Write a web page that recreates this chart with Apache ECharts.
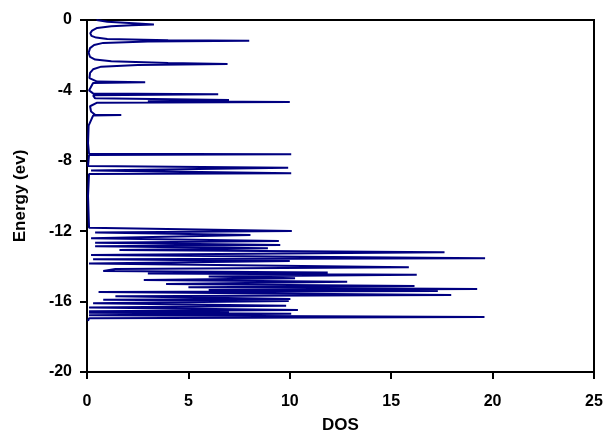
<!DOCTYPE html>
<html>
<head>
<meta charset="utf-8">
<script src="https://cdn.jsdelivr.net/npm/echarts@6/dist/echarts.min.js"></script>
<style>html,body{margin:0;padding:0;background:#fff}#c{width:608px;height:436px}</style>
</head>
<body>
<div id="c"></div>
<script>
// Energy (eV) values along the curve, top to bottom
const energy = [
  0.00, -0.10, -0.20, -0.25, -0.30, -0.36, -0.45, -0.60, -0.75, -0.90,
  -1.00, -1.08, -1.15, -1.18, -1.22, -1.30, -1.42, -1.60, -1.86, -2.10,
  -2.25, -2.35, -2.45, -2.50, -2.55, -2.65, -2.80, -3.00, -3.30, -3.50,
  -3.54, -3.58, -4.00, -4.17, -4.22, -4.28, -4.45, -4.55, -4.62, -4.66,
  -4.70, -4.90, -5.20, -5.38, -5.40, -5.43, -6.00, -7.00, -7.60, -7.63,
  -7.67, -8.30, -8.39, -8.55, -8.71, -8.75, -10.00, -11.80, -11.99, -12.08,
  -12.22, -12.40, -12.56, -12.66, -12.78, -12.86, -12.97, -13.07, -13.20, -13.35,
  -13.54, -13.60, -13.70, -13.83, -14.05, -14.15, -14.26, -14.34, -14.40, -14.47,
  -14.58, -14.68, -14.77, -14.87, -15.00, -15.11, -15.18, -15.28, -15.34, -15.40,
  -15.46, -15.63, -15.70, -15.85, -15.90, -15.97, -16.10, -16.23, -16.33, -16.48,
  -16.55, -16.60, -16.64, -16.69, -16.78, -16.88, -16.95, -17.10
];
// Density of states at each energy above
const dos = [
  0.47, 1.00, 2.50, 3.30, 2.20, 1.20, 0.50, 0.25, 0.16, 0.22,
  0.45, 1.00, 4.00, 8.00, 3.00, 0.80, 0.35, 0.15, 0.08, 0.15,
  0.40, 1.20, 4.00, 6.93, 2.50, 0.70, 0.30, 0.15, 0.12, 0.50,
  2.87, 0.30, 0.10, 0.30, 6.47, 0.30, 0.40, 7.00, 3.00, 10.00,
  0.50, 0.15, 0.20, 0.40, 1.69, 0.30, 0.08, 0.05, 0.10, 10.07,
  0.10, 0.05, 9.92, 0.20, 10.07, 0.10, 0.05, 0.10, 10.10, 0.40,
  8.06, 0.20, 9.46, 0.40, 9.53, 0.40, 8.92, 1.60, 17.63, 0.20,
  19.63, 0.30, 10.00, 0.10, 15.87, 1.40, 0.80, 11.87, 3.00, 16.26,
  6.00, 10.26, 2.80, 12.83, 3.90, 16.15, 5.00, 19.24, 6.00, 17.30,
  0.57, 17.96, 1.40, 10.03, 0.80, 9.95, 0.30, 9.82, 0.10, 10.40,
  0.10, 7.00, 0.10, 10.07, 0.10, 19.60, 0.10, 0.05
];
const xTicks = [0, 5, 10, 15, 20, 25];
const yTicks = [0, -4, -8, -12, -16, -20];

const points = energy.map((e, i) => [dos[i], e]);
const chart = echarts.init(document.getElementById('c'), null, {renderer: 'canvas'});
const font = '"Liberation Sans", Arial, sans-serif';
chart.setOption({
  animation: false,
  backgroundColor: '#fff',
  grid: {left: 87, top: 20, width: 507, height: 352, outerBoundsMode: 'none', containLabel: false,
         show: true, borderColor: '#000', borderWidth: 2, backgroundColor: 'transparent'},
  xAxis: {
    type: 'value', min: xTicks[0], max: xTicks[xTicks.length - 1], interval: 5,
    name: 'DOS', nameLocation: 'middle', nameGap: 45,
    nameTextStyle: {fontFamily: font, fontWeight: 'bold', fontSize: 17, color: '#000'},
    axisLine: {show: true, onZero: false, lineStyle: {color: '#000', width: 2}},
    axisTick: {show: true, inside: false, length: 7, lineStyle: {color: '#000', width: 2}},
    axisLabel: {fontFamily: font, fontWeight: 'bold', fontSize: 16, color: '#000', margin: 22},
    splitLine: {show: false}
  },
  yAxis: {
    type: 'value', min: yTicks[yTicks.length - 1], max: yTicks[0], interval: 4,
    name: 'Energy (ev)', nameLocation: 'middle', nameGap: 58,
    nameTextStyle: {fontFamily: font, fontWeight: 'bold', fontSize: 17, color: '#000'},
    axisLine: {show: true, onZero: false, lineStyle: {color: '#000', width: 2}},
    axisTick: {show: true, inside: false, length: 7, lineStyle: {color: '#000', width: 2}},
    axisLabel: {fontFamily: font, fontWeight: 'bold', fontSize: 16, color: '#000', margin: 15},
    splitLine: {show: false}
  },
  series: [{
    type: 'line', data: points, showSymbol: false, symbol: 'none',
    lineStyle: {color: '#000080', width: 2}, clip: true
  }]
});
</script>
</body>
</html>
